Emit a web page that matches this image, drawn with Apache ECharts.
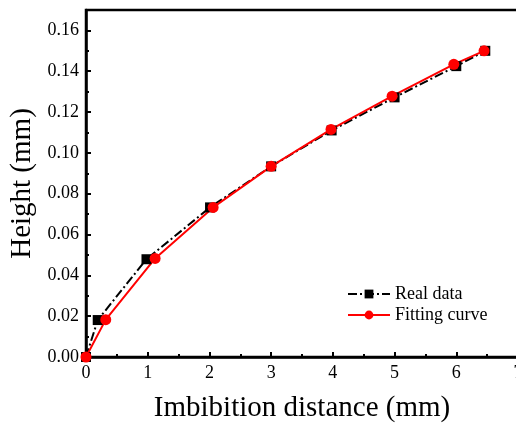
<!DOCTYPE html>
<html>
<head>
<meta charset="utf-8">
<script src="https://cdn.jsdelivr.net/npm/echarts@6/dist/echarts.min.js"></script>
<style>html,body{margin:0;padding:0;background:#fff}#c{width:516px;height:427px}</style>
</head>
<body>
<div id="c"></div>
<script>
var realX = [0, 0.19, 0.98, 2.01, 3.0, 3.98, 5.0, 6.0, 6.47];
var realY = [0.0, 0.0181, 0.0479, 0.0733, 0.0934, 0.1110, 0.1272, 0.1425, 0.1500];
var fitX = [0, 0.32, 1.12, 2.06, 3.0, 3.97, 4.96, 5.96, 6.45];
var fitY = [0.0, 0.0183, 0.0483, 0.0733, 0.0934, 0.1115, 0.1278, 0.1434, 0.1500];
var xTicks = [0, 1, 2, 3, 4, 5, 6, 7];
var yTicks = [0, 0.02, 0.04, 0.06, 0.08, 0.10, 0.12, 0.14, 0.16];

function pairs(xs, ys) { return xs.map(function (x, i) { return [x, ys[i]]; }); }

var font = 'Liberation Serif';
var chart = echarts.init(document.getElementById('c'));
chart.setOption({
  animation: false,
  grid: { left: 86, top: 10, width: 432, height: 347, containLabel: false, outerBoundsMode: 'none',
    show: true, borderColor: '#000', borderWidth: 2.5, backgroundColor: 'transparent' },
  legend: {
    left: 342, top: 280, orient: 'vertical', itemWidth: 42, itemHeight: 11, itemGap: 3,
    textStyle: { fontFamily: font, fontSize: 18, color: '#000' },
    data: ['Real data', 'Fitting curve']
  },
  xAxis: {
    type: 'value', min: xTicks[0], max: xTicks[xTicks.length - 1], interval: 1,
    name: 'Imbibition distance (mm)', nameLocation: 'middle', nameGap: 37,
    nameTextStyle: { fontFamily: font, fontSize: 29, color: '#000' },
    axisLine: { onZero: false, lineStyle: { color: '#000', width: 2.5 } },
    axisTick: { inside: true, length: 5, lineStyle: { color: '#000', width: 2 } },
    minorTick: { show: true, splitNumber: 2, length: 3, lineStyle: { color: '#000', width: 2 } },
    axisLabel: { fontFamily: font, fontSize: 18, color: '#000', margin: 7 },
    splitLine: { show: false }
  },
  yAxis: {
    type: 'value', min: 0, max: 0.17, interval: 0.02,
    name: 'Height (mm)', nameLocation: 'middle', nameGap: 48,
    nameTextStyle: { fontFamily: font, fontSize: 29, color: '#000' },
    axisLine: { onZero: false, lineStyle: { color: '#000', width: 2.5 } },
    axisTick: { inside: true, length: 5, lineStyle: { color: '#000', width: 2 } },
    minorTick: { show: true, splitNumber: 2, length: 3, lineStyle: { color: '#000', width: 2 } },
    axisLabel: { fontFamily: font, fontSize: 18, color: '#000', margin: 7,
      formatter: function (v) { return yTicks.some(function (t) { return Math.abs(t - v) < 1e-9; }) ? v.toFixed(2) : ''; } },
    splitLine: { show: false }
  },
  series: [
    {
      name: 'Real data', type: 'line', data: pairs(realX, realY),
      symbol: 'rect', symbolSize: 10,
      itemStyle: { color: '#000' },
      lineStyle: { color: '#000', width: 2, type: [9, 3, 2, 3] }
    },
    {
      name: 'Fitting curve', type: 'line', data: pairs(fitX, fitY),
      symbol: 'circle', symbolSize: 11,
      itemStyle: { color: '#ff0000' },
      lineStyle: { color: '#ff0000', width: 2 }
    }
  ]
});
</script>
</body>
</html>
